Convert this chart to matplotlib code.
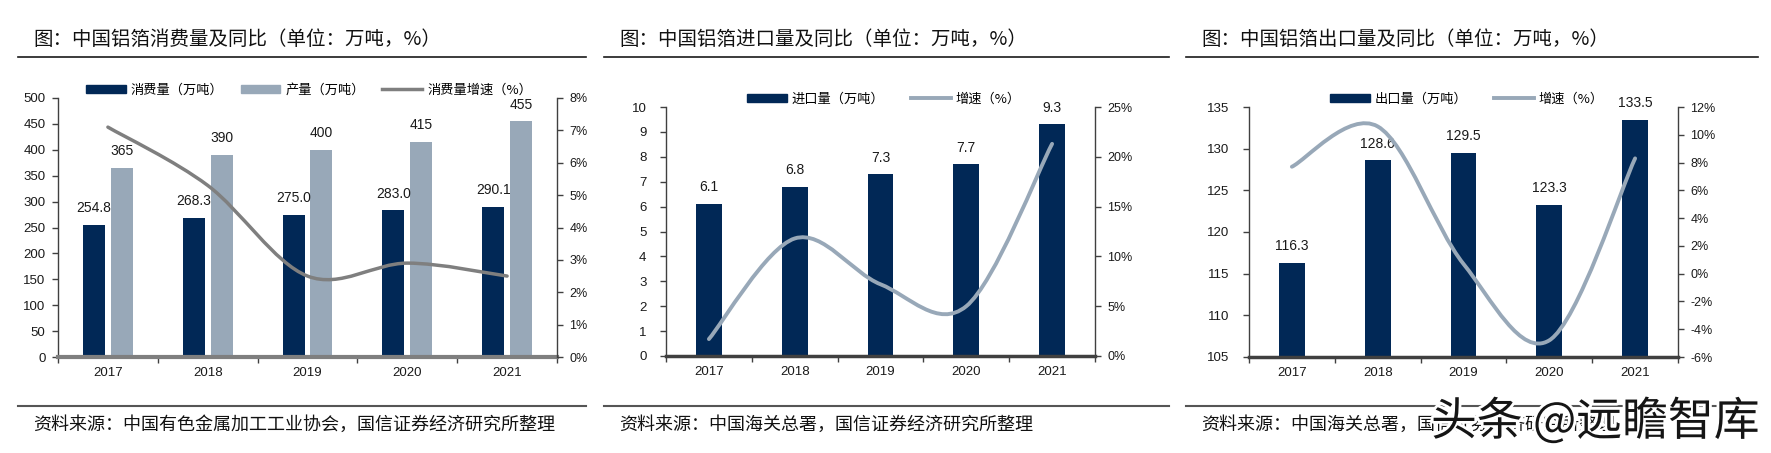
import matplotlib
matplotlib.use('Agg')
import matplotlib.pyplot as plt
import matplotlib.patheffects as pe
from matplotlib.path import Path
from matplotlib.patches import PathPatch, Patch
from matplotlib.lines import Line2D

# 数据
years = ['2017', '2018', '2019', '2020', '2021']

consume = [254.8, 268.3, 275.0, 283.0, 290.1]
produce = [365, 390, 400, 415, 455]
consume_growth = [7.1, 5.3, 2.5, 2.9, 2.5]

imports = [6.1, 6.8, 7.3, 7.7, 9.3]
imports_growth = [1.7, 11.8, 7.2, 5.0, 21.3]

exports = [116.3, 128.6, 129.5, 123.3, 133.5]
exports_growth = [7.7, 10.6, 0.7, -4.8, 8.3]

titles = ['图：中国铝箔消费量及同比（单位：万吨，%）',
          '图：中国铝箔进口量及同比（单位：万吨，%）',
          '图：中国铝箔出口量及同比（单位：万吨，%）']
sources = ['资料来源：中国有色金属加工工业协会，国信证券经济研究所整理',
           '资料来源：中国海关总署，国信证券经济研究所整理',
           '资料来源：中国海关总署，国信证券经济研究所整理']

# 样式
NAVY = '#012856'
LIGHT = '#98a8b8'
GRAY_LINE = '#7f7f7f'
CJK = ['Noto Sans CJK SC', 'DejaVu Sans']
NUM = ['Liberation Sans', 'DejaVu Sans']

W, H = 1771, 453
fig = plt.figure(figsize=(W / 100, H / 100), dpi=100)
fig.patch.set_facecolor('white')


def rect(x0, x1, y0, y1):
    # 像素坐标 -> figure 比例
    return [x0 / W, 1 - y1 / H, (x1 - x0) / W, (y1 - y0) / H]


def smooth_path(xs, ys):
    # Excel 风格的平滑线（Catmull-Rom 转 Bezier）
    pts = list(zip(xs, ys))
    n = len(pts)
    verts = [pts[0]]
    codes = [Path.MOVETO]
    for i in range(n - 1):
        p0 = pts[i - 1] if i > 0 else pts[i]
        p1 = pts[i]
        p2 = pts[i + 1]
        p3 = pts[i + 2] if i + 2 < n else pts[i + 1]
        c1 = (p1[0] + (p2[0] - p0[0]) / 6, p1[1] + (p2[1] - p0[1]) / 6)
        c2 = (p2[0] - (p3[0] - p1[0]) / 6, p2[1] - (p3[1] - p1[1]) / 6)
        verts += [c1, c2, p2]
        codes += [Path.CURVE4] * 3
    return Path(verts, codes)


def setup(ax, ax2, ylim, ystep, y2lim, y2step, base_color, base_lw, lpad):
    x = range(len(years))
    ax.set_xlim(-0.5, len(years) - 0.5)
    ax.set_ylim(*ylim)
    ax.set_yticks([ylim[0] + i * ystep for i in range(int(round((ylim[1] - ylim[0]) / ystep)) + 1)])
    ax.set_xticks(list(x))
    ax.set_xticklabels(years, fontfamily=NUM, fontsize=9.5, color='#1a1a1a')
    ax.set_xticks([i - 0.5 for i in range(len(years) + 1)], minor=True)
    ax.tick_params(axis='x', which='major', length=0, pad=7)
    ax.tick_params(axis='x', which='minor', length=4, width=1, color='#404040', direction='out')
    ax.tick_params(axis='y', length=4, width=1, color='#404040', direction='out', pad=lpad)
    for lab in ax.get_yticklabels():
        lab.set_fontfamily(NUM)
        lab.set_fontsize(9.5)
        lab.set_color('#1a1a1a')
    ax.spines['top'].set_visible(False)
    ax.spines['right'].set_visible(False)
    ax.spines['left'].set_color('#404040')
    ax.spines['left'].set_linewidth(1)
    ax.spines['bottom'].set_color(base_color)
    ax.spines['bottom'].set_linewidth(base_lw)

    ax2.set_ylim(*y2lim)
    n2 = int(round((y2lim[1] - y2lim[0]) / y2step)) + 1
    t2 = [y2lim[0] + i * y2step for i in range(n2)]
    ax2.set_yticks(t2)
    ax2.set_yticklabels(['%d%%' % v for v in t2], fontfamily=NUM, fontsize=9, color='#1a1a1a')
    ax2.tick_params(axis='y', length=4, width=1, color='#404040', direction='out', pad=5)
    for s in ['top', 'left', 'bottom']:
        ax2.spines[s].set_visible(False)
    ax2.spines['right'].set_color('#404040')
    ax2.spines['right'].set_linewidth(1)


def label(ax, xpos, val, text):
    ax.annotate(text, (xpos, val), xytext=(0, 12), textcoords='offset points',
                ha='center', va='center', fontsize=10, fontfamily=NUM, color='#1a1a1a')


# ---------- 图1：消费量 ----------
ax1 = fig.add_axes(rect(58, 557, 98, 357))
ax1b = ax1.twinx()
xs = list(range(len(years)))
ax1.bar([i - 0.14 for i in xs], consume, width=0.22, color=NAVY, zorder=2)
ax1.bar([i + 0.14 for i in xs], produce, width=0.22, color=LIGHT, zorder=2)
for i in xs:
    label(ax1, i - 0.14, consume[i], '%.1f' % consume[i])
    label(ax1, i + 0.14, produce[i], '%d' % produce[i])
setup(ax1, ax1b, (0, 500), 50, (0, 8), 1, GRAY_LINE, 3, 5)
ax1b.add_patch(PathPatch(smooth_path(xs, consume_growth), fill=False,
                         edgecolor=GRAY_LINE, lw=2.5, capstyle='round'))
h1 = [Patch(color=NAVY), Patch(color=LIGHT), Line2D([], [], color=GRAY_LINE, lw=2.5)]
fig.legend(h1, ['消费量（万吨）', '产量（万吨）', '消费量增速（%）'],
           loc='center', bbox_to_anchor=(309 / W, 1 - 90 / H), ncol=3, frameon=False,
           prop={'family': CJK, 'size': 9.5}, handlelength=3, handleheight=0.55,
           handletextpad=0.4, columnspacing=1.3)

# ---------- 图2：进口量 ----------
ax2 = fig.add_axes(rect(666, 1095, 107, 356))
ax2b = ax2.twinx()
ax2.bar(xs, imports, width=0.3, color=NAVY, zorder=2)
for i in xs:
    label(ax2, i, imports[i], '%.1f' % imports[i])
setup(ax2, ax2b, (0, 10), 1, (0, 25), 5, '#404040', 2.5, 10)
ax2b.add_patch(PathPatch(smooth_path(xs, imports_growth), fill=False,
                         edgecolor=LIGHT, lw=2.8, capstyle='round'))
h2 = [Patch(color=NAVY), Line2D([], [], color=LIGHT, lw=2.8)]
fig.legend(h2, ['进口量（万吨）', '增速（%）'],
           loc='center', bbox_to_anchor=(884 / W, 1 - 99 / H), ncol=2, frameon=False,
           prop={'family': CJK, 'size': 9.5}, handlelength=3, handleheight=0.55,
           handletextpad=0.4, columnspacing=2.0)

# ---------- 图3：出口量 ----------
ax3 = fig.add_axes(rect(1249, 1678, 107, 357))
ax3b = ax3.twinx()
ax3.bar(xs, exports, width=0.3, color=NAVY, zorder=2)
for i in xs:
    label(ax3, i, exports[i], '%.1f' % exports[i])
setup(ax3, ax3b, (105, 135), 5, (-6, 12), 2, '#404040', 2.5, 10)
ax3b.add_patch(PathPatch(smooth_path(xs, exports_growth), fill=False,
                         edgecolor=LIGHT, lw=2.8, capstyle='round'))
h3 = [Patch(color=NAVY), Line2D([], [], color=LIGHT, lw=2.8)]
fig.legend(h3, ['出口量（万吨）', '增速（%）'],
           loc='center', bbox_to_anchor=(1467 / W, 1 - 99 / H), ncol=2, frameon=False,
           prop={'family': CJK, 'size': 9.5}, handlelength=3, handleheight=0.55,
           handletextpad=0.4, columnspacing=2.0)

# ---------- 标题、分隔线、资料来源 ----------
panels = [(18, 586), (604, 1169), (1186, 1758)]
for (x0, x1), t, s in zip(panels, titles, sources):
    fig.add_artist(Line2D([x0 / W, x1 / W], [1 - 57 / H] * 2, color='#1a1a1a', lw=1.2))
    fig.add_artist(Line2D([x0 / W, x1 / W], [1 - 406 / H] * 2, color='#555555', lw=1.5))
    fig.text((x0 + 15) / W, 1 - 39.5 / H, t, family=CJK, fontsize=14, weight='medium',
             va='center', ha='left', color='#111111')
    fig.text((x0 + 15) / W, 1 - 424.5 / H, s, family=CJK, fontsize=13,
             va='center', ha='left', color='#111111')

# 水印
fig.text(1431 / W, 1 - 422 / H, '头条 @远瞻智库', family=CJK, fontsize=33,
         va='center', ha='left', color='#151515',
         path_effects=[pe.withStroke(linewidth=4, foreground='white')])

fig.savefig('out.png', dpi=100, facecolor='white')
